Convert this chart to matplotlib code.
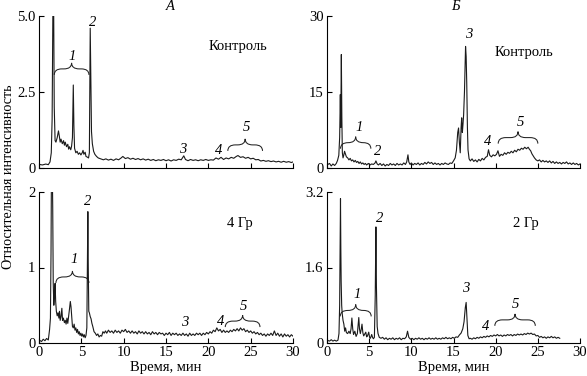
import numpy as np
import matplotlib
matplotlib.use("Agg")
import matplotlib.pyplot as plt
from matplotlib.path import Path
from matplotlib.patches import PathPatch

plt.rcParams['font.family'] = ['Liberation Serif', 'DejaVu Serif']
plt.rcParams['font.size'] = 10.5

# chromatograms: (time, min ; relative intensity)
a_control = [
    (0.0, 0.12), (0.4, 0.10), (0.8, 0.13), (1.1, 0.11), (1.3, 0.2), (1.45, 0.5), (1.55, 1.6),
    (1.65, 5.6), (1.72, 5.8), (1.8, 2.0), (1.9, 0.9), (2.0, 0.85), (2.15, 1.0), (2.3, 1.22),
    (2.4, 1.05), (2.5, 0.85), (2.6, 0.95), (2.75, 0.8), (2.9, 0.9), (3.0, 0.75), (3.1, 0.85),
    (3.25, 0.7), (3.4, 0.78), (3.5, 0.62), (3.6, 0.7), (3.75, 0.6), (3.85, 0.72), (3.95, 1.0),
    (4.05, 2.73), (4.12, 1.4), (4.2, 0.65), (4.35, 0.5), (4.5, 0.55), (4.65, 0.45), (4.8, 0.5),
    (4.95, 0.43), (5.1, 0.5), (5.2, 0.58), (5.3, 0.45), (5.45, 0.52), (5.55, 0.38), (5.7, 0.36),
    (5.85, 0.33), (5.95, 0.5), (6.05, 4.6), (6.12, 3.0), (6.2, 1.2), (6.3, 0.8), (6.45, 0.55),
    (6.6, 0.45), (6.8, 0.38), (7.0, 0.33), (7.3, 0.3), (7.6, 0.27), (7.9, 0.3), (8.2, 0.26),
    (8.5, 0.29), (8.8, 0.25), (9.1, 0.3), (9.4, 0.27), (9.7, 0.33), (9.9, 0.38), (10.2, 0.31),
    (10.5, 0.34), (10.8, 0.29), (11.1, 0.32), (11.4, 0.28), (11.7, 0.31), (12.0, 0.27),
    (12.3, 0.3), (12.6, 0.26), (12.9, 0.29), (13.2, 0.25), (13.5, 0.28), (13.8, 0.24),
    (14.1, 0.27), (14.4, 0.25), (14.7, 0.28), (15.0, 0.24), (15.3, 0.27), (15.6, 0.23),
    (15.9, 0.27), (16.2, 0.25), (16.5, 0.29), (16.8, 0.27), (17.1, 0.4), (17.3, 0.28),
    (17.6, 0.24), (17.9, 0.28), (18.2, 0.25), (18.5, 0.27), (18.8, 0.24), (19.1, 0.27),
    (19.4, 0.25), (19.7, 0.28), (20.0, 0.25), (20.3, 0.27), (20.6, 0.26), (20.9, 0.33),
    (21.2, 0.29), (21.5, 0.35), (21.8, 0.28), (22.1, 0.33), (22.4, 0.3), (22.7, 0.35),
    (23.0, 0.32), (23.3, 0.38), (23.5, 0.41), (23.8, 0.35), (24.1, 0.37), (24.4, 0.32),
    (24.7, 0.35), (25.0, 0.3), (25.3, 0.32), (25.6, 0.27), (25.9, 0.28), (26.2, 0.23),
    (26.5, 0.25), (26.8, 0.22), (27.1, 0.24), (27.4, 0.21), (27.7, 0.23), (28.0, 0.2),
    (28.3, 0.22), (28.6, 0.19), (28.9, 0.22), (29.2, 0.19), (29.5, 0.21), (29.8, 0.18), (30.0, 0.2),
]

b_control = [
    (0.0, 0.6), (0.3, 0.9), (0.5, 0.4), (0.7, 0.8), (0.9, 0.5), (1.1, 0.9), (1.25, 1.5),
    (1.4, 2.5), (1.5, 6.0), (1.58, 14.5), (1.63, 8.0), (1.7, 22.4), (1.76, 10.0), (1.82, 3.0),
    (1.9, 2.0), (2.0, 2.6), (2.08, 3.3), (2.18, 2.8), (2.3, 2.2), (2.45, 2.0), (2.6, 1.6),
    (2.75, 1.9), (2.9, 1.4), (3.05, 1.6), (3.2, 1.2), (3.35, 1.5), (3.5, 1.1), (3.65, 1.3),
    (3.8, 0.9), (3.95, 1.2), (4.1, 0.8), (4.25, 1.0), (4.4, 0.7), (4.55, 0.9), (4.7, 0.6),
    (4.9, 0.9), (5.1, 0.6), (5.3, 0.8), (5.5, 0.7), (5.7, 1.0), (5.8, 1.4), (5.95, 0.8),
    (6.1, 0.6), (6.3, 0.9), (6.5, 0.5), (6.7, 0.8), (6.9, 0.4), (7.1, 0.7), (7.3, 0.5),
    (7.5, 0.9), (7.7, 0.6), (7.9, 0.8), (8.1, 0.5), (8.3, 0.9), (8.5, 0.6), (8.7, 0.8),
    (8.9, 0.6), (9.1, 1.0), (9.3, 0.7), (9.45, 1.2), (9.6, 2.6), (9.7, 1.2), (9.85, 0.7),
    (10.0, 1.0), (10.2, 0.6), (10.4, 0.9), (10.6, 0.7), (10.8, 1.0), (11.0, 0.6), (11.2, 0.9),
    (11.4, 0.7), (11.6, 1.1), (11.8, 0.8), (12.0, 1.2), (12.2, 0.9), (12.4, 1.1), (12.6, 0.7),
    (12.8, 1.0), (13.0, 0.7), (13.2, 0.9), (13.4, 0.6), (13.6, 0.9), (13.8, 0.7), (14.0, 1.0),
    (14.2, 0.8), (14.4, 0.7), (14.6, 1.0), (14.8, 0.9), (15.0, 1.4), (15.2, 2.0), (15.35, 3.5),
    (15.5, 7.0), (15.6, 7.9), (15.7, 5.0), (15.8, 3.0), (15.9, 8.0), (15.97, 9.9), (16.05, 7.0),
    (16.12, 8.5), (16.2, 10.5), (16.3, 15.0), (16.38, 21.0), (16.43, 24.0), (16.5, 22.0),
    (16.57, 16.8), (16.65, 8.0), (16.72, 3.6), (16.85, 1.8), (17.0, 1.4), (17.2, 1.8),
    (17.4, 1.3), (17.6, 1.6), (17.8, 1.2), (18.0, 1.7), (18.2, 1.4), (18.4, 1.9), (18.6, 1.6),
    (18.8, 2.1), (19.0, 2.3), (19.15, 3.6), (19.3, 2.5), (19.5, 2.2), (19.7, 2.6), (19.9, 2.4),
    (20.1, 2.7), (20.27, 3.4), (20.45, 2.3), (20.65, 2.7), (20.85, 2.5), (21.05, 3.0),
    (21.25, 2.7), (21.45, 3.1), (21.65, 2.9), (21.85, 3.3), (22.05, 3.0), (22.25, 3.5),
    (22.45, 3.2), (22.65, 3.7), (22.85, 3.5), (23.05, 3.9), (23.25, 3.7), (23.45, 4.1),
    (23.65, 3.8), (23.85, 4.1), (24.0, 3.7), (24.15, 3.4), (24.3, 2.8), (24.45, 2.4),
    (24.6, 2.0), (24.8, 1.6), (25.0, 1.4), (25.2, 1.6), (25.4, 1.2), (25.6, 1.5), (25.8, 1.2),
    (26.0, 1.4), (26.2, 1.1), (26.4, 1.4), (26.6, 1.0), (26.8, 1.3), (27.0, 0.9), (27.2, 1.2),
    (27.4, 0.9), (27.6, 1.1), (27.8, 0.8), (28.0, 1.1), (28.2, 0.9), (28.4, 1.2), (28.6, 0.8),
    (28.8, 1.0), (29.0, 0.7), (29.2, 1.0), (29.4, 0.7), (29.6, 0.9), (29.8, 0.6), (30.0, 0.8),
]

a_4gy = [
    (0.0, 0.04), (0.3, 0.02), (0.5, 0.05), (0.7, 0.03), (0.9, 0.06), (1.1, 0.04), (1.25, 0.18),
    (1.35, 0.33), (1.42, 1.2), (1.47, 2.3), (1.52, 2.1), (1.57, 2.3), (1.62, 1.8), (1.68, 0.8),
    (1.75, 0.5), (1.82, 0.62), (1.9, 0.79), (1.97, 0.55), (2.05, 0.42), (2.15, 0.36), (2.25, 0.4),
    (2.35, 0.33), (2.42, 0.42), (2.5, 0.3), (2.6, 0.35), (2.7, 0.46), (2.78, 0.3), (2.88, 0.33),
    (3.0, 0.27), (3.1, 0.3), (3.2, 0.25), (3.3, 0.33), (3.4, 0.26), (3.5, 0.35), (3.6, 0.45),
    (3.7, 0.55), (3.78, 0.48), (3.85, 0.37), (3.95, 0.22), (4.05, 0.2), (4.15, 0.25), (4.25, 0.17),
    (4.35, 0.2), (4.45, 0.14), (4.55, 0.18), (4.65, 0.12), (4.75, 0.15), (4.85, 0.1), (4.95, 0.13),
    (5.05, 0.09), (5.15, 0.12), (5.25, 0.08), (5.35, 0.11), (5.45, 0.07), (5.55, 0.1), (5.65, 0.2),
    (5.72, 1.2), (5.77, 1.74), (5.82, 1.0), (5.88, 0.42), (5.95, 0.4), (6.05, 0.35), (6.15, 0.32),
    (6.25, 0.26), (6.35, 0.22), (6.5, 0.15), (6.65, 0.13), (6.8, 0.1), (6.95, 0.12), (7.1, 0.08),
    (7.25, 0.1), (7.4, 0.09), (7.55, 0.15), (7.7, 0.13), (7.85, 0.16), (8.0, 0.13), (8.2, 0.17),
    (8.4, 0.14), (8.6, 0.16), (8.8, 0.13), (9.0, 0.17), (9.2, 0.14), (9.4, 0.16), (9.6, 0.13),
    (9.8, 0.17), (10.0, 0.15), (10.2, 0.18), (10.4, 0.14), (10.6, 0.16), (10.8, 0.13), (11.0, 0.16),
    (11.2, 0.13), (11.4, 0.15), (11.6, 0.12), (11.8, 0.16), (12.0, 0.13), (12.2, 0.15), (12.4, 0.12),
    (12.6, 0.15), (12.8, 0.12), (13.0, 0.14), (13.2, 0.11), (13.4, 0.15), (13.6, 0.12), (13.8, 0.14),
    (14.0, 0.11), (14.2, 0.14), (14.4, 0.12), (14.6, 0.13), (14.8, 0.1), (15.0, 0.13), (15.2, 0.11),
    (15.4, 0.14), (15.6, 0.1), (15.8, 0.13), (16.0, 0.11), (16.2, 0.13), (16.4, 0.1), (16.6, 0.12),
    (16.8, 0.1), (17.0, 0.13), (17.2, 0.1), (17.4, 0.12), (17.6, 0.09), (17.8, 0.13), (18.0, 0.1),
    (18.2, 0.12), (18.4, 0.1), (18.6, 0.13), (18.8, 0.11), (19.0, 0.13), (19.2, 0.1), (19.4, 0.13),
    (19.6, 0.11), (19.8, 0.14), (20.0, 0.12), (20.2, 0.15), (20.4, 0.13), (20.6, 0.17), (20.8, 0.15),
    (21.0, 0.2), (21.2, 0.16), (21.4, 0.18), (21.6, 0.14), (21.8, 0.17), (22.0, 0.14), (22.2, 0.16),
    (22.4, 0.14), (22.6, 0.17), (22.8, 0.15), (23.0, 0.18), (23.2, 0.16), (23.4, 0.19), (23.6, 0.16),
    (23.8, 0.2), (24.0, 0.17), (24.2, 0.19), (24.4, 0.15), (24.6, 0.17), (24.8, 0.14), (25.0, 0.16),
    (25.2, 0.13), (25.4, 0.15), (25.6, 0.12), (25.8, 0.14), (26.0, 0.11), (26.2, 0.13), (26.4, 0.1),
    (26.6, 0.12), (26.8, 0.09), (27.0, 0.12), (27.2, 0.1), (27.4, 0.13), (27.6, 0.1), (27.8, 0.16),
    (28.0, 0.1), (28.2, 0.13), (28.4, 0.09), (28.6, 0.12), (28.8, 0.08), (29.0, 0.12), (29.2, 0.09),
    (29.4, 0.11), (29.6, 0.08), (29.8, 0.11), (30.0, 0.09),
]

b_2gy = [
    (0.0, 0.06), (0.3, 0.04), (0.5, 0.07), (0.7, 0.04), (0.9, 0.06), (1.1, 0.04), (1.3, 0.06),
    (1.42, 0.2), (1.5, 0.8), (1.56, 2.2), (1.6, 3.06), (1.64, 2.0), (1.68, 1.3), (1.74, 0.8),
    (1.8, 0.63), (1.9, 0.48), (2.0, 0.4), (2.1, 0.25), (2.2, 0.32), (2.3, 0.22), (2.45, 0.2),
    (2.6, 0.25), (2.75, 0.2), (2.85, 0.3), (2.95, 0.53), (3.05, 0.3), (3.15, 0.18), (3.3, 0.25),
    (3.45, 0.14), (3.6, 0.2), (3.7, 0.4), (3.77, 0.54), (3.85, 0.3), (3.95, 0.2), (4.05, 0.28),
    (4.15, 0.4), (4.25, 0.22), (4.35, 0.15), (4.5, 0.2), (4.6, 0.23), (4.7, 0.13), (4.8, 0.15),
    (4.95, 0.23), (5.05, 0.12), (5.15, 0.1), (5.3, 0.18), (5.4, 0.12), (5.5, 0.09), (5.62, 0.12),
    (5.72, 1.0), (5.8, 2.46), (5.86, 1.2), (5.95, 0.35), (6.05, 0.2), (6.2, 0.12), (6.4, 0.1),
    (6.6, 0.12), (6.8, 0.08), (7.0, 0.11), (7.2, 0.07), (7.4, 0.1), (7.6, 0.08), (7.8, 0.11),
    (8.0, 0.07), (8.2, 0.1), (8.4, 0.08), (8.6, 0.11), (8.8, 0.07), (9.0, 0.1), (9.2, 0.09),
    (9.4, 0.13), (9.55, 0.25), (9.7, 0.12), (9.9, 0.08), (10.1, 0.1), (10.3, 0.07), (10.5, 0.1),
    (10.7, 0.08), (10.9, 0.11), (11.1, 0.08), (11.3, 0.1), (11.5, 0.07), (11.7, 0.1), (11.9, 0.08),
    (12.1, 0.11), (12.3, 0.08), (12.5, 0.1), (12.7, 0.08), (12.9, 0.11), (13.1, 0.08), (13.3, 0.1),
    (13.5, 0.08), (13.7, 0.11), (13.9, 0.09), (14.1, 0.12), (14.3, 0.09), (14.5, 0.11), (14.7, 0.09),
    (14.9, 0.12), (15.1, 0.1), (15.3, 0.13), (15.5, 0.12), (15.7, 0.17), (15.9, 0.21), (16.1, 0.3),
    (16.25, 0.45), (16.4, 0.75), (16.5, 0.86), (16.6, 0.5), (16.7, 0.16), (16.85, 0.09), (17.0, 0.1),
    (17.2, 0.08), (17.4, 0.11), (17.6, 0.09), (17.8, 0.12), (18.0, 0.1), (18.2, 0.13), (18.4, 0.11),
    (18.6, 0.14), (18.8, 0.12), (19.0, 0.15), (19.2, 0.13), (19.4, 0.16), (19.6, 0.14), (19.8, 0.17),
    (20.0, 0.15), (20.2, 0.18), (20.4, 0.15), (20.6, 0.17), (20.8, 0.14), (21.0, 0.17), (21.2, 0.15),
    (21.4, 0.18), (21.6, 0.16), (21.8, 0.18), (22.0, 0.15), (22.2, 0.18), (22.4, 0.16), (22.6, 0.19),
    (22.8, 0.17), (23.0, 0.19), (23.2, 0.17), (23.4, 0.2), (23.6, 0.18), (23.8, 0.21), (24.0, 0.19),
    (24.2, 0.21), (24.4, 0.18), (24.6, 0.19), (24.8, 0.15), (25.0, 0.16), (25.2, 0.12), (25.4, 0.14),
    (25.6, 0.11), (25.8, 0.13), (26.0, 0.1), (26.2, 0.13), (26.4, 0.11), (26.6, 0.14), (26.8, 0.11),
    (27.0, 0.13), (27.2, 0.1), (27.4, 0.12), (27.6, 0.1),
]

# y axis limits and ticks per panel
y_max = [5.0, 30, 2, 3.2]
y_ticks = [[0, 2.5, 5.0], [0, 15, 30], [0, 1, 2], [0, 1.6, 3.2]]
y_ticklabels = [["0", "2.5", "5.0"], ["0", "15", "30"], ["0", "1", "2"], ["0", "1.6", "3.2"]]
x_ticks = [0, 5, 10, 15, 20, 25, 30]
conditions = ["Контроль", "Контроль", "4 Гр", "2 Гр"]

# annotations: peak numbers (label, time, intensity)
peak_labels = [
    [("1", 3.9, 3.66), ("2", 6.3, 4.8), ("3", 17.0, 0.6), ("4", 21.2, 0.58), ("5", 24.5, 1.33)],
    [("1", 3.77, 7.9), ("2", 6.0, 3.2), ("3", 16.8, 26.3), ("4", 19.0, 5.25), ("5", 22.9, 8.9)],
    [("1", 4.2, 1.1), ("2", 5.8, 1.88), ("3", 17.2, 0.27), ("4", 21.4, 0.29), ("5", 24.2, 0.49)],
    [("1", 3.58, 1.02), ("2", 6.23, 2.64), ("3", 16.5, 1.16), ("4", 18.8, 0.35), ("5", 22.4, 0.81)],
]
# braces: (t start, t end, level)
braces = [
    [(1.8, 5.9, 3.26), (22.3, 26.4, 0.76)],
    [(1.6, 5.2, 5.0), (20.3, 25.0, 6.0)],
    [(2.0, 5.9, 0.875), (22.0, 26.1, 0.29)],
    [(1.57, 5.24, 0.69), (19.9, 24.7, 0.49)],
]
condition_pos = [(23.5, 4.0), (23.4, 22.7), (23.7, 1.58), (23.6, 2.53)]


def draw_brace(ax, x0, x1, y, h, dx=0.9):
    xm = (x0 + x1) / 2
    verts = [(x0, y - h), (x0, y), (x0 + dx, y),
             (xm - dx, y), (xm, y), (xm, y + h),
             (xm, y), (xm + dx, y),
             (x1 - dx, y), (x1, y), (x1, y - h)]
    codes = [Path.MOVETO, Path.CURVE3, Path.CURVE3,
             Path.LINETO, Path.CURVE3, Path.CURVE3,
             Path.CURVE3, Path.CURVE3,
             Path.LINETO, Path.CURVE3, Path.CURVE3]
    ax.add_patch(PathPatch(Path(verts, codes), fill=False, lw=0.75, ec="#222222"))


W, H = 587, 376
fig = plt.figure(figsize=(W / 100, H / 100), dpi=100)
boxes = [(39, 16, 293, 168), (327, 16, 580, 168), (39, 192, 293, 343), (327, 192, 580, 343)]
traces = [a_control, b_control, a_4gy, b_2gy]

axes = []
for i, (l, t, r, b) in enumerate(boxes):
    ax = fig.add_axes([l / W, 1 - b / H, (r - l) / W, (b - t) / H])
    axes.append(ax)
    data = np.array(traces[i])
    ax.plot(data[:, 0], data[:, 1], color="#1a1a1a", lw=0.8)
    ax.set_xlim(0, 30)
    ax.set_ylim(0, y_max[i])
    for s in ["top", "right"]:
        ax.spines[s].set_visible(False)
    for s in ["left", "bottom"]:
        ax.spines[s].set_linewidth(0.8)
    ax.set_xticks(x_ticks)
    ax.set_yticks(y_ticks[i])
    ax.set_yticklabels(y_ticklabels[i])
    ax.tick_params(direction="in", length=3.5, width=0.8, labelsize=10.5, pad=2.5)
    if i < 2:
        ax.set_xticklabels([])
    else:
        ax.set_xlabel("Время, мин", fontsize=10.5, labelpad=1)
    for lab, tx, ty in peak_labels[i]:
        ax.text(tx, ty, lab, style="italic", ha="center", va="center", fontsize=10.5)
    h = y_max[i] * 6 / 152
    for x0, x1, yb in braces[i]:
        draw_brace(ax, x0, x1, yb, h)
    cx, cy = condition_pos[i]
    ax.text(cx, cy, conditions[i], ha="center", va="center", fontsize=10.5)

fig.text(170 / W, 1 - 7 / H, "А", style="italic", ha="center", va="center", fontsize=10.5)
fig.text(455 / W, 1 - 7 / H, "Б", style="italic", ha="center", va="center", fontsize=10.5)
fig.text(9 / W, 1 - 177 / H, "Относительная интенсивность", rotation=90, ha="center",
         va="center", fontsize=10.2)

fig.savefig("out.png", dpi=100)
